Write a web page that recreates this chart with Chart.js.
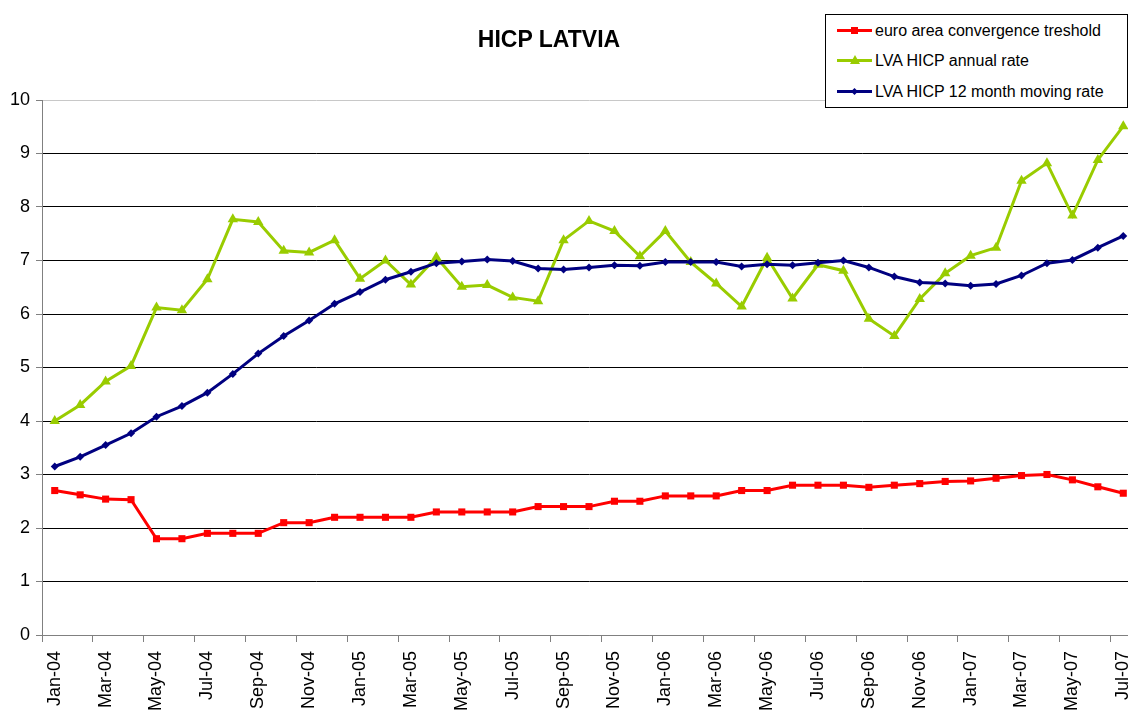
<!DOCTYPE html>
<html>
<head>
<meta charset="utf-8">
<title>HICP LATVIA</title>
<script src="https://cdn.jsdelivr.net/npm/chart.js@4.4.1/dist/chart.umd.min.js"></script>
<style>
  html, body { margin: 0; padding: 0; background: #fff; overflow: hidden; }
  #wrap { position: relative; width: 1128px; height: 716px; overflow: hidden; font-family: Arial, "Liberation Sans", sans-serif; }
  #chart { position: absolute; left: 0; top: 0; }
  #title { position: absolute; left: 349px; top: 28px; width: 400px; text-align: center; font-weight: bold; font-size: 23px; line-height: 23px; color: #000; }
  #legend { position: absolute; left: 825px; top: 14px; width: 301px; height: 92px; border: 1px solid #000; background: #fff; }
  .row { position: absolute; left: 11px; height: 20px; font-size: 16px; line-height: 20px; color: #000; white-space: nowrap; }
  .sample { position: relative; display: inline-block; width: 35px; height: 3px; vertical-align: middle; margin-right: 3px; top: -1px; }
  .mk { position: absolute; left: 50%; top: 50%; }
</style>
</head>
<body>
<div id="wrap">
  <canvas id="chart" width="1142" height="716"></canvas>
  <div id="title">HICP LATVIA</div>
  <div id="legend"></div>
</div>
<script>
// month labels, Jan-04 .. Jul-07
const months = [
  'Jan-04','Feb-04','Mar-04','Apr-04','May-04','Jun-04','Jul-04','Aug-04','Sep-04','Oct-04','Nov-04','Dec-04',
  'Jan-05','Feb-05','Mar-05','Apr-05','May-05','Jun-05','Jul-05','Aug-05','Sep-05','Oct-05','Nov-05','Dec-05',
  'Jan-06','Feb-06','Mar-06','Apr-06','May-06','Jun-06','Jul-06','Aug-06','Sep-06','Oct-06','Nov-06','Dec-06',
  'Jan-07','Feb-07','Mar-07','Apr-07','May-07','Jun-07','Jul-07'
];

// euro area convergence treshold
const thresholdRate = [
  2.70, 2.62, 2.54, 2.53, 1.80, 1.80, 1.90, 1.90, 1.90, 2.10, 2.10, 2.20,
  2.20, 2.20, 2.20, 2.30, 2.30, 2.30, 2.30, 2.40, 2.40, 2.40, 2.50, 2.50,
  2.60, 2.60, 2.60, 2.70, 2.70, 2.80, 2.80, 2.80, 2.76, 2.80, 2.83, 2.87,
  2.88, 2.93, 2.98, 3.00, 2.90, 2.77, 2.65
];

// LVA HICP annual rate
const annualRate = [
  4.00, 4.30, 4.74, 5.03, 6.12, 6.07, 6.65, 7.77, 7.72, 7.18, 7.15, 7.38,
  6.66, 7.00, 6.55, 7.06, 6.51, 6.54, 6.31, 6.24, 7.38, 7.74, 7.55, 7.08,
  7.55, 6.97, 6.57, 6.14, 7.05, 6.29, 6.92, 6.81, 5.91, 5.59, 6.28, 6.76,
  7.09, 7.24, 8.49, 8.82, 7.84, 8.88, 9.51
];

// LVA HICP 12 month moving rate
const movingRate = [
  3.15, 3.33, 3.55, 3.77, 4.08, 4.28, 4.53, 4.88, 5.26, 5.59, 5.88, 6.19,
  6.41, 6.64, 6.79, 6.95, 6.98, 7.02, 6.99, 6.85, 6.83, 6.87, 6.91, 6.90,
  6.97, 6.97, 6.97, 6.89, 6.93, 6.91, 6.96, 7.00, 6.87, 6.70, 6.59, 6.57,
  6.53, 6.56, 6.72, 6.95, 7.01, 7.24, 7.46
];

const series = [
  { label: 'euro area convergence treshold', data: thresholdRate, color: '#FF0000', style: 'rect', radius: 5, order: 2 },
  { label: 'LVA HICP annual rate', data: annualRate, color: '#99CC00', style: 'triangle', radius: 6, order: 1 },
  { label: 'LVA HICP 12 month moving rate', data: movingRate, color: '#000080', style: 'rectRot', radius: 4, order: 0 }
];

const axisFont = { family: 'Arial, "Liberation Sans", sans-serif', size: 18 };

new Chart(document.getElementById('chart'), {
  type: 'line',
  data: {
    labels: months,
    datasets: series.map(s => ({
      label: s.label,
      data: s.data,
      borderColor: s.color,
      backgroundColor: s.color,
      borderWidth: 3,
      pointStyle: s.style,
      pointRadius: s.radius,
      pointBorderWidth: 0,
      pointBackgroundColor: s.color,
      tension: 0,
      order: s.order
    }))
  },
  options: {
    responsive: false,
    animation: false,
    layout: { padding: { top: 100, right: 0, bottom: 0, left: 0 } },
    plugins: {
      legend: { display: false },
      title: { display: false },
      tooltip: { enabled: false }
    },
    scales: {
      x: {
        type: 'category',
        offset: true,
        afterFit: (scale) => {
          scale.height = 81;
          // plot runs past the right edge of the picture, like the original
          scale.paddingLeft = 0;
          scale.paddingRight = 0;
        },
        border: { color: '#808080', width: 1 },
        grid: {
          offset: true,
          drawOnChartArea: false,
          tickLength: 7,
          color: (ctx) => (ctx.index % 2 === 0 ? '#808080' : 'rgba(0,0,0,0)')
        },
        ticks: {
          autoSkip: false,
          minRotation: 90,
          maxRotation: 90,
          padding: 9,
          color: '#000',
          font: axisFont,
          callback: function (val, idx) { return idx % 2 === 0 ? this.getLabelForValue(val) : ''; }
        }
      },
      y: {
        min: 0,
        max: 10,
        afterFit: (scale) => { scale.width = 42; },
        border: { color: '#808080', width: 1 },
        grid: {
          tickLength: 6,
          color: (ctx) => (ctx.tick && ctx.tick.value === 10 ? '#c8c8c8' : (ctx.tick && ctx.tick.value === 0 ? '#808080' : '#000')),
          tickColor: '#808080'
        },
        ticks: {
          stepSize: 1,
          padding: 6,
          color: '#000',
          font: axisFont
        }
      }
    }
  }
});

// legend box (line + marker samples)
const legendBox = document.getElementById('legend');
const rowTops = [6, 36, 67];
series.forEach((s, i) => {
  const row = document.createElement('div');
  row.className = 'row';
  row.style.top = rowTops[i] + 'px';
  const sample = document.createElement('span');
  sample.className = 'sample';
  sample.style.background = s.color;
  const mk = document.createElement('span');
  mk.className = 'mk';
  if (s.style === 'rect') {
    Object.assign(mk.style, { width: '7px', height: '7px', marginLeft: '-3.5px', marginTop: '-3.5px', background: s.color });
  } else if (s.style === 'triangle') {
    Object.assign(mk.style, { width: '0', height: '0', marginLeft: '-5px', marginTop: '-6px',
      borderLeft: '5px solid transparent', borderRight: '5px solid transparent', borderBottom: '9px solid ' + s.color });
  } else {
    Object.assign(mk.style, { width: '5px', height: '5px', marginLeft: '-2.5px', marginTop: '-2.5px', background: s.color, transform: 'rotate(45deg)' });
  }
  sample.appendChild(mk);
  row.appendChild(sample);
  row.appendChild(document.createTextNode(s.label));
  legendBox.appendChild(row);
});
</script>
</body>
</html>
